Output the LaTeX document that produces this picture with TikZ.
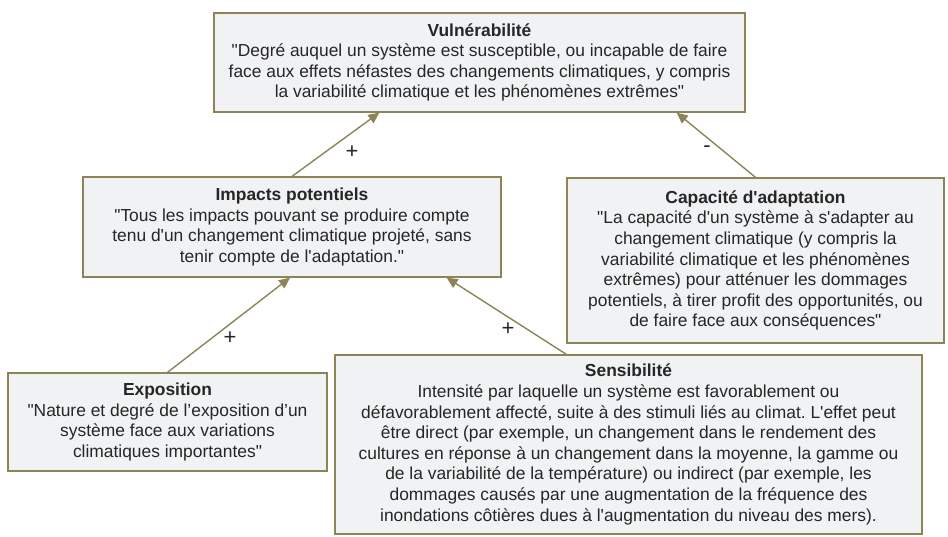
\documentclass[tikz,border=0pt]{standalone}
\usepackage{fontspec}
\setmainfont{Liberation Sans}[Ligatures=TeXOff]
\usetikzlibrary{arrows.meta}
\definecolor{olive}{HTML}{8C8456}
\definecolor{boxfill}{HTML}{F1F2F4}
\definecolor{txt}{HTML}{262626}
\frenchspacing
\begin{document}
\begin{tikzpicture}[x=1pt,y=-1pt,
  concept/.style={draw=olive, line width=1.3pt, fill=boxfill, text=txt, align=center, inner sep=0pt,
    font=\fontsize{17.4}{20.6}\selectfont},
  link/.style={draw=olive, line width=1.4pt, -{Triangle[length=11pt,width=10pt]}},
  sign/.style={text=txt, font=\fontsize{22}{24}\selectfont, inner sep=0pt}]
\useasboundingbox (0,0) rectangle (948,536);
\node[concept, minimum width=531pt, minimum height=99pt] (vul) at (479.5,62.5)
 {\textbf{Vulnérabilité}\\"Degré auquel un système est susceptible, ou incapable de faire\\face aux effets néfastes des changements climatiques, y compris\\la variabilité climatique et les phénomènes extrêmes"};
\node[concept, minimum width=418pt, minimum height=100pt] (imp) at (292,227)
 {\textbf{Impacts potentiels}\\"Tous les impacts pouvant se produire compte\\tenu d'un changement climatique projeté, sans\\tenir compte de l'adaptation."};
\node[concept, minimum width=377pt, minimum height=165pt] (cap) at (755.5,260.5)
 {\textbf{Capacité d'adaptation}\\"La capacité d'un système à s'adapter au\\changement climatique (y compris la\\variabilité climatique et les phénomènes\\extrêmes) pour atténuer les dommages\\potentiels, à tirer profit des opportunités, ou\\de faire face aux conséquences"};
\node[concept, minimum width=319pt, minimum height=98pt] (exp) at (167.5,422)
 {\textbf{Exposition}\\"Nature et degré de l’exposition d’un\\système face aux variations\\climatiques importantes"};
\node[concept, minimum width=587pt, minimum height=179pt] (sen) at (628.5,444.5)
 {\textbf{Sensibilité}\\Intensité par laquelle un système est favorablement ou\\défavorablement affecté, suite à des stimuli liés au climat. L'effet peut\\être direct (par exemple, un changement dans le rendement des\\cultures en réponse à un changement dans la moyenne, la gamme ou\\de la variabilité de la température) ou indirect (par exemple, les\\dommages causés par une augmentation de la fréquence des\\inondations côtières dues à l'augmentation du niveau des mers).};
\draw[link] (imp.north) -- ([xshift=166pt]vul.south west);
\draw[link] (cap.north) -- ([xshift=-69pt]vul.south east);
\draw[link] (exp.north) -- ([xshift=-2pt]imp.south);
\draw[link] ([xshift=232pt]sen.north west) -- ([xshift=-55pt]imp.south east);
\node[sign] (s1) at (352,152) {+};
\node[sign] (s2) at (707,149) {-};
\node[sign] (s3) at (230,338) {+};
\node[sign] (s4) at (508,329) {+};
\end{tikzpicture}
\end{document}
